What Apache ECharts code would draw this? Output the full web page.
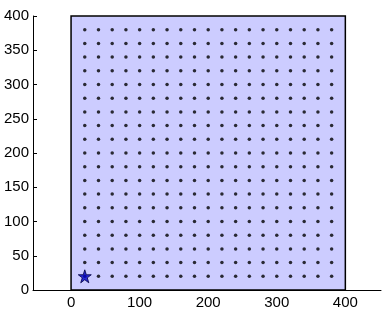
<!DOCTYPE html>
<html><head><meta charset="utf-8">
<script src="https://cdn.jsdelivr.net/npm/echarts@6/dist/echarts.min.js"></script>
<style>html,body{margin:0;padding:0;background:#fff}#c{width:382px;height:314px}</style>
</head><body><div id="c"></div>
<script>
const gridX = [20,40,60,80,100,120,140,160,180,200,220,240,260,280,300,320,340,360,380];
const gridY = [20,40,60,80,100,120,140,160,180,200,220,240,260,280,300,320,340,360,380];
const rectBox = [0, 0, 400, 400];
const starPoint = [20, 20];
const xTicks = [0, 100, 200, 300, 400];
const yTicks = [0, 50, 100, 150, 200, 250, 300, 350, 400];

const dots = [];
gridX.forEach(x => gridY.forEach(y => dots.push([x, y])));

const chart = echarts.init(document.getElementById('c'));
const font = {fontFamily: 'Liberation Sans, Arial, sans-serif', fontSize: 15, color: '#000'};
chart.setOption({
  animation: false,
  grid: {left: 33, right: 1, top: 16, bottom: 24},
  xAxis: {
    type: 'value', min: -55.5, max: 452,
    splitLine: {show: false},
    axisLine: {show: true, onZero: false, lineStyle: {color: '#000', width: 1}},
    axisTick: {show: true, inside: true, length: 4, customValues: xTicks, lineStyle: {color: '#000'}},
    axisLabel: Object.assign({customValues: xTicks, margin: 5}, font)
  },
  yAxis: {
    type: 'value', min: 0, max: 400, interval: 50,
    splitLine: {show: false},
    axisLine: {show: true, onZero: false, lineStyle: {color: '#000', width: 1}},
    axisTick: {show: true, inside: true, length: 4, lineStyle: {color: '#000'}},
    axisLabel: Object.assign({margin: 4}, font)
  },
  series: [
    {
      type: 'custom', z: 1,
      data: [rectBox],
      renderItem: function (params, api) {
        const p0 = api.coord([api.value(0), api.value(3)]);
        const p1 = api.coord([api.value(2), api.value(1)]);
        return {
          type: 'rect',
          shape: {x: p0[0], y: p0[1], width: p1[0] - p0[0], height: p1[1] - p0[1]},
          style: {fill: 'rgb(204,204,255)', stroke: '#000', lineWidth: 1.5}
        };
      }
    },
    {
      type: 'scatter', z: 3, data: dots, symbol: 'circle', symbolSize: 3.5,
      itemStyle: {color: '#000'}, silent: true
    },
    {
      type: 'scatter', z: 4, data: [starPoint],
      symbol: 'path://M50,0 L61.8,35.4 L99,35.4 L69,57.3 L80.4,92.7 L50,70.8 L19.6,92.7 L31,57.3 L1,35.4 L38.2,35.4 Z',
      symbolSize: 13,
      itemStyle: {color: '#0000c8', borderColor: '#000040', borderWidth: 1}
    }
  ]
});
</script></body></html>
